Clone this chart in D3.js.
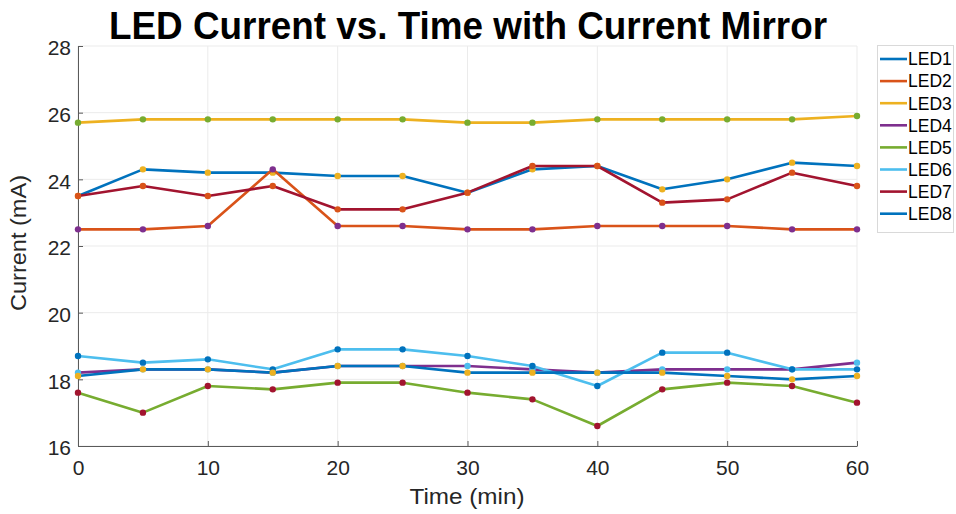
<!DOCTYPE html>
<html>
<head>
<meta charset="utf-8">
<script src="https://cdn.jsdelivr.net/npm/d3@7"></script>
<style>
  body { margin: 0; background: #fff; }
  text { font-family: "Liberation Sans", Arial, sans-serif; fill: #262626; }
</style>
</head>
<body>
<div id="chart"></div>
<script>
// time points (min)
const times = [0, 5, 10, 15, 20, 25, 30, 35, 40, 45, 50, 55, 60];
const seriesNames = ["LED1", "LED2", "LED3", "LED4", "LED5", "LED6", "LED7", "LED8"];

// currents in mA
const led1 = [23.5, 24.3, 24.2, 24.2, 24.1, 24.1, 23.6, 24.3, 24.4, 23.7, 24.0, 24.5, 24.4];
const led2 = [22.5, 22.5, 22.6, 24.3, 22.6, 22.6, 22.5, 22.5, 22.6, 22.6, 22.6, 22.5, 22.5];
const led3 = [25.7, 25.8, 25.8, 25.8, 25.8, 25.8, 25.7, 25.7, 25.8, 25.8, 25.8, 25.8, 25.9];
const led4 = [18.2, 18.3, 18.3, 18.2, 18.4, 18.4, 18.4, 18.3, 18.2, 18.3, 18.3, 18.3, 18.5];
const led5 = [17.6, 17.0, 17.8, 17.7, 17.9, 17.9, 17.6, 17.4, 16.6, 17.7, 17.9, 17.8, 17.3];
const led6 = [18.7, 18.5, 18.6, 18.3, 18.9, 18.9, 18.7, 18.4, 17.8, 18.8, 18.8, 18.3, 18.3];
const led7 = [23.5, 23.8, 23.5, 23.8, 23.1, 23.1, 23.6, 24.4, 24.4, 23.3, 23.4, 24.2, 23.8];
const led8 = [18.1, 18.3, 18.3, 18.2, 18.4, 18.4, 18.2, 18.2, 18.2, 18.2, 18.1, 18.0, 18.1];

const xTicks = [0, 10, 20, 30, 40, 50, 60];
const yTicks = [16, 18, 20, 22, 24, 26, 28];

// matlab default colour order
const colorOrder = ["#0072BD", "#D95319", "#EDB120", "#7E2F8E", "#77AC30", "#4DBEEE", "#A2142F"];

const allSeries = [led1, led2, led3, led4, led5, led6, led7, led8];

const W = 956, H = 514;
const margin = { top: 46, right: 99, bottom: 68, left: 78 },
    width = W - margin.left - margin.right,
    height = H - margin.top - margin.bottom;

const svg = d3.select("#chart").append("svg")
    .attr("width", W)
    .attr("height", H);

const g = svg.append("g")
    .attr("transform", `translate(${margin.left}, ${margin.top})`);

const x = d3.scaleLinear().domain([0, 60]).range([0, width]);
const y = d3.scaleLinear().domain([16, 28]).range([height, 0]);

// grid
g.append("g").selectAll("line")
    .data(xTicks).enter().append("line")
    .attr("x1", d => x(d)).attr("x2", d => x(d))
    .attr("y1", 0).attr("y2", height)
    .attr("stroke", "#ebebeb").attr("stroke-width", 1);
g.append("g").selectAll("line")
    .data(yTicks).enter().append("line")
    .attr("x1", 0).attr("x2", width)
    .attr("y1", d => y(d)).attr("y2", d => y(d))
    .attr("stroke", "#ebebeb").attr("stroke-width", 1);

// axes (ticks pointing inward like matlab)
const xAxis = g.append("g")
    .attr("transform", `translate(0, ${height})`)
    .call(d3.axisBottom(x).tickValues(xTicks).tickSizeInner(-5).tickSizeOuter(0).tickPadding(14));
const yAxis = g.append("g")
    .call(d3.axisLeft(y).tickValues(yTicks).tickSizeInner(-5).tickSizeOuter(0).tickPadding(7));

[xAxis, yAxis].forEach(ax => {
    ax.select(".domain").attr("stroke", "#5a5a5a").attr("stroke-width", 1);
    ax.selectAll(".tick line").attr("stroke", "#5a5a5a");
    ax.selectAll("text")
        .style("font-family", "'Liberation Sans', Arial, sans-serif")
        .style("font-size", "21px")
        .attr("fill", "#262626");
});
yAxis.selectAll("text").attr("dy", "0.42em");

// lines + markers; marker colour is two steps ahead in the colour order
const line = d3.line()
    .x((d, i) => x(times[i]))
    .y(d => y(d));

allSeries.forEach((vals, k) => {
    const lineColor = colorOrder[k % 7];
    const markColor = colorOrder[(k + 2) % 7];
    g.append("path")
        .datum(vals)
        .attr("fill", "none")
        .attr("stroke", lineColor)
        .attr("stroke-width", 2.6)
        .attr("stroke-linejoin", "round")
        .attr("d", line);
    g.append("g").selectAll("circle")
        .data(vals).enter().append("circle")
        .attr("cx", (d, i) => x(times[i]))
        .attr("cy", d => y(d))
        .attr("r", 3.2)
        .attr("fill", markColor);
});

// title
svg.append("text")
    .attr("x", 468)
    .attr("y", 39)
    .attr("text-anchor", "middle")
    .attr("font-size", "38px")
    .attr("font-weight", "bold")
    .attr("textLength", 718)
    .attr("lengthAdjust", "spacingAndGlyphs")
    .style("fill", "#000")
    .text("LED Current vs. Time with Current Mirror");

// axis labels
svg.append("text")
    .attr("x", 467)
    .attr("y", 504)
    .attr("text-anchor", "middle")
    .attr("font-size", "22px")
    .attr("textLength", 115)
    .attr("lengthAdjust", "spacingAndGlyphs")
    .text("Time (min)");

svg.append("text")
    .attr("transform", "rotate(-90)")
    .attr("x", -243)
    .attr("y", 26)
    .attr("text-anchor", "middle")
    .attr("font-size", "22px")
    .attr("textLength", 136)
    .attr("lengthAdjust", "spacingAndGlyphs")
    .text("Current (mA)");

// legend
const legend = svg.append("g")
    .attr("transform", "translate(877, 45)");

legend.append("rect")
    .attr("x", 0.5).attr("y", 0.5)
    .attr("width", 76).attr("height", 187)
    .attr("fill", "#fff")
    .attr("stroke", "#d9d9d9");

legend.selectAll("line")
    .data(seriesNames).enter().append("line")
    .attr("x1", 3).attr("x2", 30)
    .attr("y1", (d, i) => 14 + i * 22.1)
    .attr("y2", (d, i) => 14 + i * 22.1)
    .attr("stroke", (d, i) => colorOrder[i % 7])
    .attr("stroke-width", 2.6);

legend.selectAll("text")
    .data(seriesNames).enter().append("text")
    .attr("x", 31)
    .attr("y", (d, i) => 14 + i * 22.1)
    .attr("dy", "0.36em")
    .attr("font-size", "17.5px")
    .style("fill", "#000")
    .text(d => d);
</script>
</body>
</html>
